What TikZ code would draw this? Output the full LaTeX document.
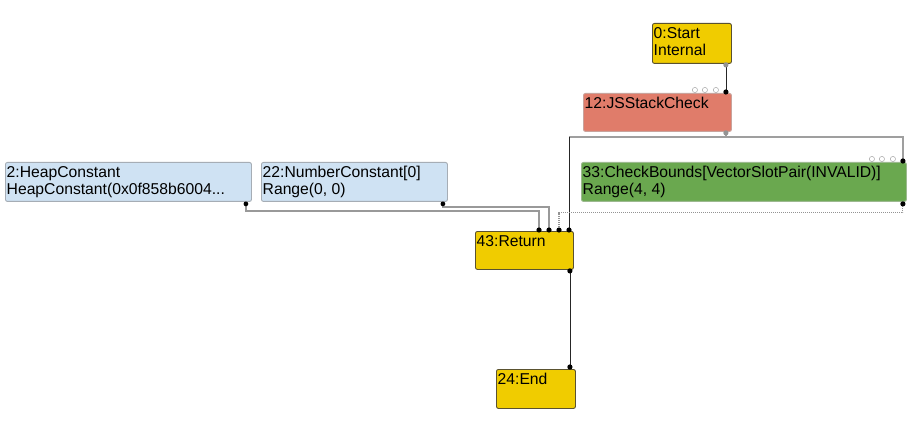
\documentclass[tikz,border=0pt]{standalone}
\usepackage{fontspec}
\setmainfont{Liberation Sans}
\usetikzlibrary{calc}
\definecolor{cyellow}{HTML}{F0CC00}
\definecolor{cyborder}{HTML}{5A5230}
\definecolor{cred}{HTML}{E07C6A}
\definecolor{crborder}{HTML}{C9A39C}
\definecolor{cgreen}{HTML}{6AA84F}
\definecolor{cgborder}{HTML}{9CB98F}
\definecolor{cblue}{HTML}{CFE2F3}
\definecolor{cbborder}{HTML}{A6ADB5}
\begin{document}
\begin{tikzpicture}[x=1pt,y=-1pt,
  box/.style={rectangle, rounded corners=2pt, line width=0.9pt, anchor=north west, inner sep=0pt},
  lbl/.style={anchor=north west, inner sep=0pt, align=left, font=\fontsize{15.7}{17}\selectfont},
  edge/.style={draw=black!85, line width=0.8pt},
  gedge/.style={draw=gray!75, line width=1.4pt},
  cedge/.style={draw=gray!80, line width=1.3pt},
  dedge/.style={draw=gray!85, line width=1.1pt, dash pattern=on 1pt off 1pt},
  port/.style={fill=black},
  gport/.style={fill=gray!85},
  hport/.style={draw=gray!70, fill=white, line width=0.5pt}]
\useasboundingbox (0,0) rectangle (919,425);
\fill[white] (0,0) rectangle (919,425);

% boxes
\node[box, fill=cyellow, draw=cyborder, minimum width=79pt, minimum height=40pt] (n0) at (652,23) {};
\node[box, fill=cred, draw=crborder, minimum width=148pt, minimum height=38pt] (n12) at (583,93) {};
\node[box, fill=cblue, draw=cbborder, minimum width=246pt, minimum height=39pt] (n2) at (5,162) {};
\node[box, fill=cblue, draw=cbborder, minimum width=186pt, minimum height=39pt] (n22) at (261,162) {};
\node[box, fill=cgreen, draw=cgborder, minimum width=325pt, minimum height=39pt] (n33) at (581,162) {};
\node[box, fill=cyellow, draw=cyborder, minimum width=98pt, minimum height=38pt] (n43) at (475,231) {};
\node[box, fill=cyellow, draw=cyborder, minimum width=79pt, minimum height=39pt] (n24) at (496,369) {};

% labels
\node[lbl] (t0) at ($(n0.north west)+(1.5,4)$) {0:Start\\Internal};
\node[lbl] (t12) at ($(n12.north west)+(1.5,4)$) {12:JSStackCheck};
\node[lbl] (t2) at ($(n2.north west)+(1.5,4)$) {2:HeapConstant\\HeapConstant(0x0f858b6004...};
\node[lbl] (t22) at ($(n22.north west)+(1.5,4)$) {22:NumberConstant[0]\\Range(0, 0)};
\node[lbl] (t33) at ($(n33.north west)+(1.5,4)$) {33:CheckBounds[VectorSlotPair(INVALID)]\\Range(4, 4)};
\node[lbl] (t43) at ($(n43.north west)+(1.5,4)$) {43:Return};
\node[lbl] (t24) at ($(n24.north west)+(1.5,4)$) {24:End};

% ports
\coordinate (p0o) at ($(n0.south east)+(-6,1)$);
\coordinate (p12i) at ($(n12.north east)+(-6,-1)$);
\coordinate (p12o) at ($(n12.south east)+(-6,1)$);
\coordinate (h12) at ($(p12o)+(0,4)$);
\coordinate (p33i) at ($(n33.north east)+(-4,-1)$);
\coordinate (p33o) at ($(n33.south east)+(-4,2)$);
\coordinate (p2o) at ($(n2.south east)+(-6,2)$);
\coordinate (p22o) at ($(n22.south east)+(-5,2)$);
\coordinate (p43a) at ($(n43.north west)+(64,-1)$);
\coordinate (p43b) at ($(n43.north west)+(74,-1)$);
\coordinate (p43c) at ($(n43.north west)+(84,-1)$);
\coordinate (p43d) at ($(n43.north west)+(94,-1)$);
\coordinate (p43o) at ($(n43.south east)+(-4,1)$);
\coordinate (p24i) at ($(n24.north east)+(-6,-2)$);

% edges
\draw[edge] (p0o) -- (p12i);
\draw[gedge] (p12o) -- (h12) -| (p33i);
\draw[gedge] (h12) -- (h12 -| p43d);
\draw[edge] (h12 -| p43d) -- (p43d);
\draw[cedge] (p2o) -- ++(0,7) -| (p43a);
\draw[cedge] (p22o) -- ++(0,3) -| (p43b);
\draw[dedge] (p33o) -- ++(0,9) -| (p43c);
\draw[edge] (p43o) -- (p24i);

% port dots
\fill[gport] (p0o) circle (2.6);
\fill[port] (p12i) circle (2.6);
\fill[gport] (p12o) circle (2.6);
\fill[port] (p33i) circle (2.6);
\fill[port] (p33o) circle (2.6);
\fill[port] (p2o) circle (2.4);
\fill[port] (p22o) circle (2.4);
\fill[port] (p43a) circle (2.6);
\fill[port] (p43b) circle (2.6);
\fill[port] (p43c) circle (2.6);
\fill[port] (p43d) circle (2.6);
\fill[port] (p43o) circle (2.6);
\fill[port] (p24i) circle (2.6);
\foreach \dx in {-37,-27,-16} {\draw[hport] ($(n12.north east)+(\dx,-3)$) circle (2.6);}
\foreach \dx in {-35,-25,-14} {\draw[hport] ($(n33.north east)+(\dx,-3)$) circle (2.6);}
\end{tikzpicture}
\end{document}
